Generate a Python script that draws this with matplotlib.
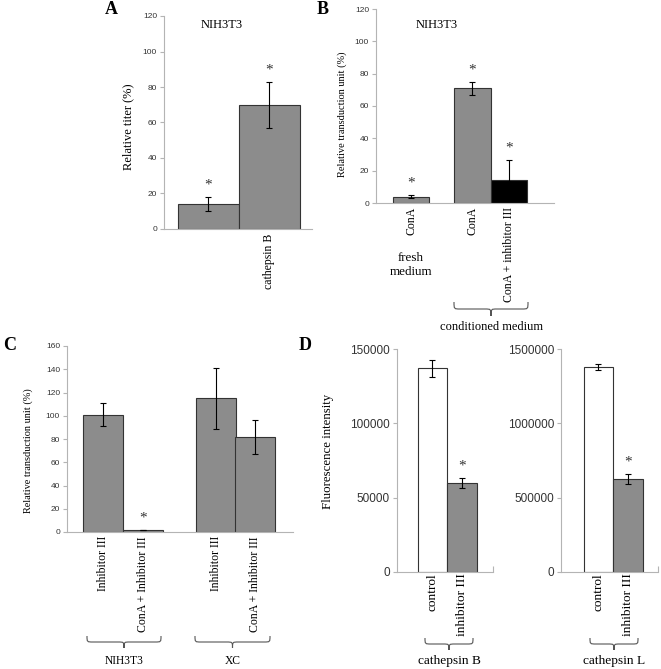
import matplotlib.pyplot as plt
import numpy as np
from matplotlib.path import Path
from matplotlib.patches import PathPatch

# Tamaño en píxeles de la figura
W, H = 661, 669
SERIF = ['Liberation Serif', 'DejaVu Serif']
SANS = ['Liberation Sans', 'DejaVu Sans']
GRAY = '#8c8c8c'
EDGE = '#333333'
AXIS = '#b4b4b4'

plt.rcParams['font.family'] = SANS

# Panel A
a_labels = ['', 'cathepsin B']
a_values = [14, 70]
a_errors = [4, 13]
a_stars = [True, True]

# Panel B
b_labels = ['ConA', 'ConA', 'ConA + inhibitor III']
b_values = [4, 71, 14]
b_errors = [1, 4, 12.5]
b_colors = [GRAY, GRAY, 'black']
b_stars = [True, True, True]

# Panel C
c_labels = ['Inhibitor III', 'ConA + Inhibitor III', 'Inhibitor III', 'ConA + Inhibitor III']
c_values = [101, 2, 115, 82]
c_errors = [10, 0, 26.5, 14.5]
c_stars = [False, True, False, False]
c_groups = ['NIH3T3', 'XC']

# Panel D
d_labels = ['control', 'inhibitor III']
d_colors = ['white', GRAY]
dB_values = [137000, 60000]
dB_errors = [5500, 3500]
dL_values = [1380000, 625000]
dL_errors = [20000, 32000]
d_stars = [False, True]
d_groups = ['cathepsin B', 'cathepsin L']

fig = plt.figure(figsize=(W / 100, H / 100), dpi=100)


def add_axes(x0, x1, ytop, ybot):
    return fig.add_axes([x0 / W, 1 - ybot / H, (x1 - x0) / W, (ybot - ytop) / H])


def style(ax, ymax, step, fs=6):
    ax.set_ylim(0, ymax)
    ax.set_yticks(np.arange(0, ymax + 1, step))
    ax.ticklabel_format(axis='y', style='plain', useOffset=False)
    for s in ['top', 'right']:
        ax.spines[s].set_visible(False)
    for s in ['left', 'bottom']:
        ax.spines[s].set_color(AXIS)
        ax.spines[s].set_linewidth(0.8)
    ax.tick_params(axis='y', length=3, width=0.8, color=AXIS, labelsize=fs,
                   labelcolor='#333333', pad=2)
    ax.tick_params(axis='x', length=0, pad=3)


def bars(ax, pos, values, errors, colors, labels, stars, xlim, fs=8.5):
    ax.bar(pos, values, width=1.0, color=colors, edgecolor=EDGE, linewidth=0.8,
           yerr=errors, capsize=2,
           error_kw=dict(elinewidth=0.8, capthick=0.8, ecolor='black'))
    ax.set_xlim(*xlim)
    ax.set_xticks(pos, labels, rotation=90, family=SERIF, fontsize=fs, va='top')
    for p, v, e, s in zip(pos, values, errors, stars):
        if s:
            ax.annotate('*', (p, v + e), xytext=(0, 8.5), textcoords='offset points',
                        ha='center', va='center', family=SERIF, fontsize=11,
                        color='#333333')


# --- A ---
axA = add_axes(164, 312, 16, 229)
style(axA, 120, 20)
bars(axA, [0, 1], a_values, a_errors, GRAY, a_labels, a_stars, (-0.73, 1.70))

# --- B ---
axB = add_axes(376, 554, 9, 203)
style(axB, 120, 20)
bars(axB, [0, 1.685, 2.685], b_values, b_errors, b_colors, b_labels, b_stars,
     (-0.96, 3.92))

# --- C ---
axC = add_axes(67, 293, 346, 532)
style(axC, 160, 20)
bars(axC, [0, 1, 2.82, 3.81], c_values, c_errors, GRAY, c_labels, c_stars,
     (-0.9, 4.75))

# --- D ---
axD1 = add_axes(397, 493, 349, 572)
style(axD1, 150000, 50000, fs=8.5)
bars(axD1, [0, 1], dB_values, dB_errors, d_colors, d_labels, d_stars, (-1.2, 2.05),
     fs=9.6)
axD2 = add_axes(561, 658, 349, 572)
style(axD2, 1500000, 500000, fs=8.5)
bars(axD2, [0, 1], dL_values, dL_errors, d_colors, d_labels, d_stars, (-1.27, 2.02),
     fs=9.6)
for ax in (axD1, axD2):
    ax.tick_params(axis='x', pad=1)
    ax.set_xticks([ax.get_xlim()[1]], minor=True)
    ax.tick_params(axis='x', which='minor', direction='in', length=4, width=0.8, color=AXIS)

# --- capa superior en píxeles para textos y llaves ---
ov = fig.add_axes([0, 0, 1, 1])
ov.set_xlim(0, W)
ov.set_ylim(H, 0)
ov.axis('off')


def brace(x0, x1, ytop, ybot):
    xm = (x0 + x1) / 2
    ym = (ytop + ybot) / 2
    r = 6
    verts = [(x0, ytop), (x0, ym), (x0, ym), (x0 + r, ym),
             (xm - r, ym), (xm, ym), (xm, ym), (xm, ybot),
             (xm, ym), (xm, ym), (xm + r, ym),
             (x1 - r, ym), (x1, ym), (x1, ym), (x1, ytop)]
    codes = [Path.MOVETO, Path.CURVE4, Path.CURVE4, Path.CURVE4,
             Path.LINETO, Path.CURVE4, Path.CURVE4, Path.CURVE4,
             Path.CURVE4, Path.CURVE4, Path.CURVE4,
             Path.LINETO, Path.CURVE4, Path.CURVE4, Path.CURVE4]
    ov.add_patch(PathPatch(Path(verts, codes), fill=False, ec='#555555', lw=0.8))


def txt(x, y, s, size=9, rot=0, weight='normal'):
    ov.text(x, y, s, ha='center', va='center', rotation=rot, family=SERIF,
            fontsize=size, fontweight=weight)


# letras de panel
for (x, y), s in zip([(111, 10), (323, 10), (10, 345), (305, 345)], 'ABCD'):
    txt(x, y, s, size=13, weight='bold')

# títulos
txt(222, 25, 'NIH3T3')
txt(437, 25, 'NIH3T3')

# etiquetas de eje y
txt(128, 127, 'Relative titer (%)', rot=90)
txt(342, 114, 'Relative transduction unit (%)', rot=90, size=7.5)
txt(28, 451, 'Relative transduction unit (%)', rot=90, size=7.4)
txt(328, 451, 'Fluorescence intensity', rot=90, size=9.3)

# grupos
txt(411, 265, 'fresh\nmedium', size=9.4)
brace(454, 528, 302, 316)
txt(491, 327, 'conditioned medium')

brace(87, 161, 636, 648)
txt(124, 661, c_groups[0], size=8.3)
brace(195, 270, 636, 648)
txt(233, 661, c_groups[1], size=8.3)

brace(425, 473, 638, 650)
txt(449, 661, d_groups[0], size=9.6)
brace(590, 638, 638, 650)
txt(614, 661, d_groups[1], size=9.6)

fig.savefig('out.png', dpi=100)
